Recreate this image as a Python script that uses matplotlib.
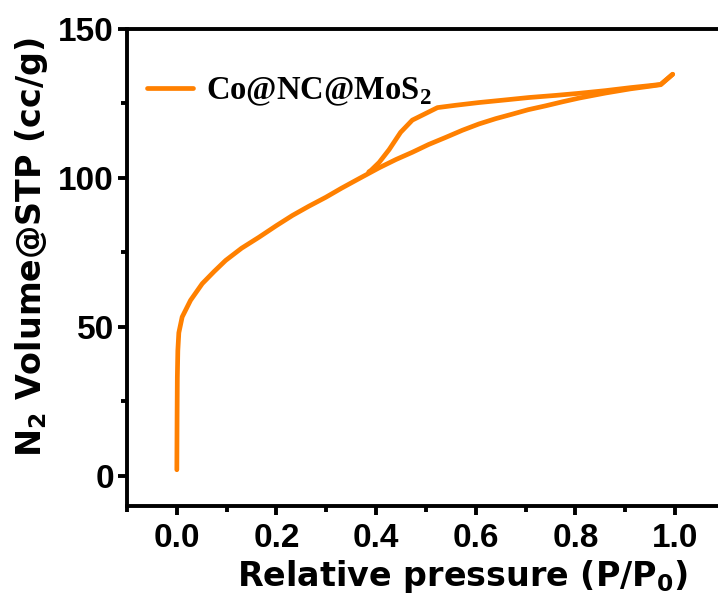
import matplotlib
matplotlib.use("Agg")
import matplotlib.pyplot as plt
from matplotlib.ticker import MultipleLocator

# N2 sorption isotherm of Co@NC@MoS2 (adsorption and desorption branches)
ads_p = [0.0, 0.0005, 0.001, 0.002, 0.004, 0.0107, 0.0275, 0.051, 0.075,
         0.098, 0.13, 0.165, 0.20, 0.232, 0.265, 0.299, 0.33, 0.365, 0.406,
         0.44, 0.4725, 0.505, 0.5395, 0.573, 0.606, 0.64, 0.673, 0.705, 0.74,
         0.775, 0.807, 0.86, 0.91, 0.95, 0.971, 0.995]
ads_v = [2.0, 20.0, 33.0, 42.0, 48.0, 53.3, 58.9, 64.5, 68.6, 72.3, 76.4,
         80.1, 84.0, 87.4, 90.5, 93.5, 96.5, 99.7, 103.4, 106.2, 108.6, 111.2,
         113.6, 116.0, 118.1, 119.9, 121.4, 122.9, 124.2, 125.6, 126.8, 128.5,
         129.9, 130.8, 131.3, 134.8]

des_p = [0.995, 0.971, 0.95, 0.91, 0.86, 0.807, 0.76, 0.707, 0.66, 0.606,
         0.56, 0.523, 0.4725, 0.449, 0.426, 0.406, 0.39, 0.385]
des_v = [134.8, 131.4, 131.0, 130.3, 129.3, 128.4, 127.7, 127.0, 126.2, 125.3,
         124.4, 123.6, 119.4, 115.3, 109.5, 105.2, 102.6, 102.0]

label = r"Co@NC@MoS$_\mathrm{2}$"
color = "#FF8000"

plt.rcParams["mathtext.fontset"] = "custom"
plt.rcParams["mathtext.rm"] = "Liberation Serif:bold"
plt.rcParams["mathtext.bf"] = "DejaVu Sans:bold"

fig = plt.figure(figsize=(7.18, 6.07), dpi=100)
ax = fig.add_axes([127 / 718, 1 - 505.5 / 607, (725 - 127) / 718, (505.5 - 29) / 607])

line_kw = dict(color=color, lw=3.4, solid_joinstyle="round", solid_capstyle="round")
ax.plot(ads_p, ads_v, label=label, **line_kw)
ax.plot(des_p, des_v, **line_kw)

ax.set_xlim(-0.1, 1.1)
ax.set_ylim(-10, 150)
ax.xaxis.set_major_locator(MultipleLocator(0.2))
ax.xaxis.set_minor_locator(MultipleLocator(0.1))
ax.yaxis.set_major_locator(MultipleLocator(50))
ax.yaxis.set_minor_locator(MultipleLocator(25))

for s in ax.spines.values():
    s.set_linewidth(2.8)
ax.tick_params(which="major", direction="out", length=6.5, width=2.8, pad=6,
               top=False, right=False)
ax.tick_params(which="minor", direction="out", length=4.0, width=2.8,
               top=False, right=False)
ax.tick_params(axis="y", which="major", pad=3)

tick_font = dict(family="Liberation Sans", weight="bold", size=24)
ax.set_xticks([0.0, 0.2, 0.4, 0.6, 0.8, 1.0])
ax.set_xticklabels(["0.0", "0.2", "0.4", "0.6", "0.8", "1.0"], **tick_font)
ax.set_yticks([0, 50, 100, 150])
ax.set_yticklabels(["0", "50", "100", "150"], **tick_font)

lab_font = dict(family="DejaVu Sans", weight="bold", size=24)
ax.set_xlabel(r"Relative pressure (P/P$_\mathbf{0}$)", labelpad=3, **lab_font)
ax.set_ylabel(r"N$_\mathbf{2}$ Volume@STP (cc/g)", labelpad=6, **lab_font)
ax.xaxis.label.set_x(0.562)
ax.yaxis.label.set_y(0.542)

ax.legend(loc="upper left", bbox_to_anchor=(-0.015, 0.965), frameon=False,
          handlelength=1.4, handletextpad=0.4,
          prop=dict(family="Liberation Serif", weight="bold", size=23.5))

fig.savefig("out.png", dpi=100)
